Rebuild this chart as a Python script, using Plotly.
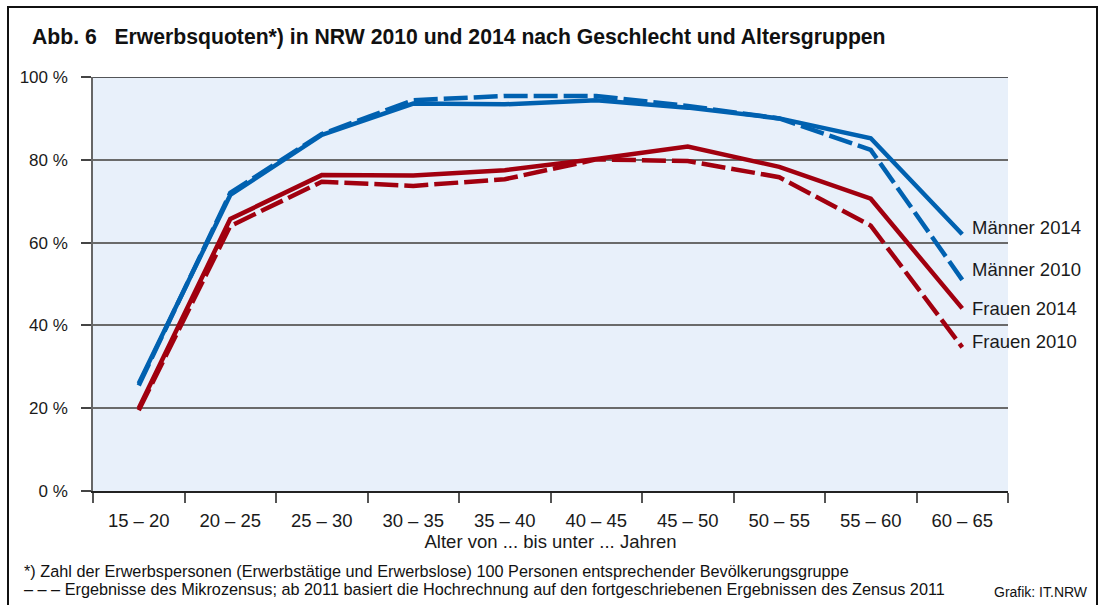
import plotly.graph_objects as go

categories = ["15 – 20", "20 – 25", "25 – 30", "30 – 35", "35 – 40",
              "40 – 45", "45 – 50", "50 – 55", "55 – 60", "60 – 65"]
maenner_2014 = [26.0, 71.5, 86.0, 93.6, 93.4, 94.4, 92.6, 90.0, 85.2, 62.0]
maenner_2010 = [25.5, 72.0, 86.2, 94.4, 95.4, 95.4, 93.0, 90.0, 82.4, 51.0]
frauen_2014 = [20.0, 65.7, 76.3, 76.2, 77.5, 80.2, 83.2, 78.3, 70.6, 44.1]
frauen_2010 = [19.5, 64.0, 74.7, 73.7, 75.3, 80.1, 79.7, 75.8, 64.1, 34.7]
y_ticks = [0, 20, 40, 60, 80, 100]
y_tick_labels = [f"{v} %" for v in y_ticks]

BLUE = "#0061b0"
RED = "#a1000f"
FONT = "Liberation Sans, Arial, sans-serif"
DASH = "24px,6px"

fig = go.Figure()
series = [
    ("Männer 2010", maenner_2010, BLUE, DASH, 10),
    ("Frauen 2010", frauen_2010, RED, DASH, 6),
    ("Männer 2014", maenner_2014, BLUE, "solid", 7),
    ("Frauen 2014", frauen_2014, RED, "solid", 0),
]
for name, vals, col, dash, ysh in series:
    fig.add_trace(go.Scatter(x=categories, y=vals, mode="lines", name=name,
                             line=dict(color=col, width=4.5, dash=dash),
                             showlegend=False, hoverinfo="x+y+name"))
    fig.add_annotation(x=categories[-1], y=vals[-1], text=name, showarrow=False,
                       xanchor="left", yanchor="middle", xshift=8, yshift=ysh,
                       font=dict(size=18.5, color="#1a1a1a", family=FONT))

fig.update_layout(
    width=1103, height=605,
    margin=dict(l=93, r=95, t=77, b=114),
    paper_bgcolor="white", plot_bgcolor="#e8f0fa",
    font=dict(family=FONT, size=16, color="#1a1a1a"),
    xaxis=dict(type="category", range=[-0.5, 9.5], tickson="boundaries",
               ticks="outside", ticklen=10, tickcolor="#555555", tickwidth=1.5,
               showline=True, linecolor="#222222", linewidth=1.5,
               showgrid=False, ticklabelstandoff=12,
               title=dict(text="Alter von ... bis unter ... Jahren",
                          standoff=2, font=dict(size=18.5)),
               tickfont=dict(size=18.5)),
    yaxis=dict(range=[0, 100], tickmode="array", tickvals=y_ticks,
               ticktext=y_tick_labels,
               ticks="outside", ticklen=10, tickcolor="#444444", tickwidth=1.5,
               showline=True, linecolor="#666666", linewidth=1.5,
               showgrid=True, gridcolor="#6a6a6a", gridwidth=1.5,
               zeroline=False, ticklabelstandoff=10, tickfont=dict(size=17)),
)

# top gridline at 100 % darker
fig.add_shape(type="line", xref="paper", yref="y", x0=0, x1=1, y0=100, y1=100,
              line=dict(color="#222222", width=1.5))

# frame around the whole graphic
W, H = 915.0, 414.0
def px(x):
    return (x - 93) / W
def py(y):
    return (491 - y) / H
fig.add_shape(type="rect", xref="paper", yref="paper",
              x0=px(8), x1=px(1097), y0=py(612), y1=py(7),
              line=dict(color="#111111", width=2), fillcolor="rgba(0,0,0,0)",
              layer="below")

fig.add_annotation(xref="paper", yref="paper", x=px(30), y=py(37),
                   xanchor="left", yanchor="middle", showarrow=False,
                   text="<b>Abb. 6   Erwerbsquoten*) in NRW 2010 und 2014 nach Geschlecht und Altersgruppen</b>",
                   font=dict(size=21.2, color="#111111", family=FONT))
fig.add_annotation(xref="paper", yref="paper", x=px(22), y=py(571),
                   xanchor="left", yanchor="middle", showarrow=False,
                   text="*) Zahl der Erwerbspersonen (Erwerbstätige und Erwerbslose) 100 Personen entsprechender Bevölkerungsgruppe",
                   font=dict(size=16.25, color="#111111", family=FONT))
fig.add_annotation(xref="paper", yref="paper", x=px(22), y=py(589),
                   xanchor="left", yanchor="middle", showarrow=False,
                   text="– – – Ergebnisse des Mikrozensus; ab 2011 basiert die Hochrechnung auf den fortgeschriebenen Ergebnissen des Zensus 2011",
                   font=dict(size=16.25, color="#111111", family=FONT))
fig.add_annotation(xref="paper", yref="paper", x=px(1090), y=py(592),
                   xanchor="right", yanchor="middle", showarrow=False,
                   text="Grafik: IT.NRW",
                   font=dict(size=14, color="#111111", family=FONT))

fig.write_html("out.html", config={"displayModeBar": False},
               post_script="document.body.style.margin='0';")
